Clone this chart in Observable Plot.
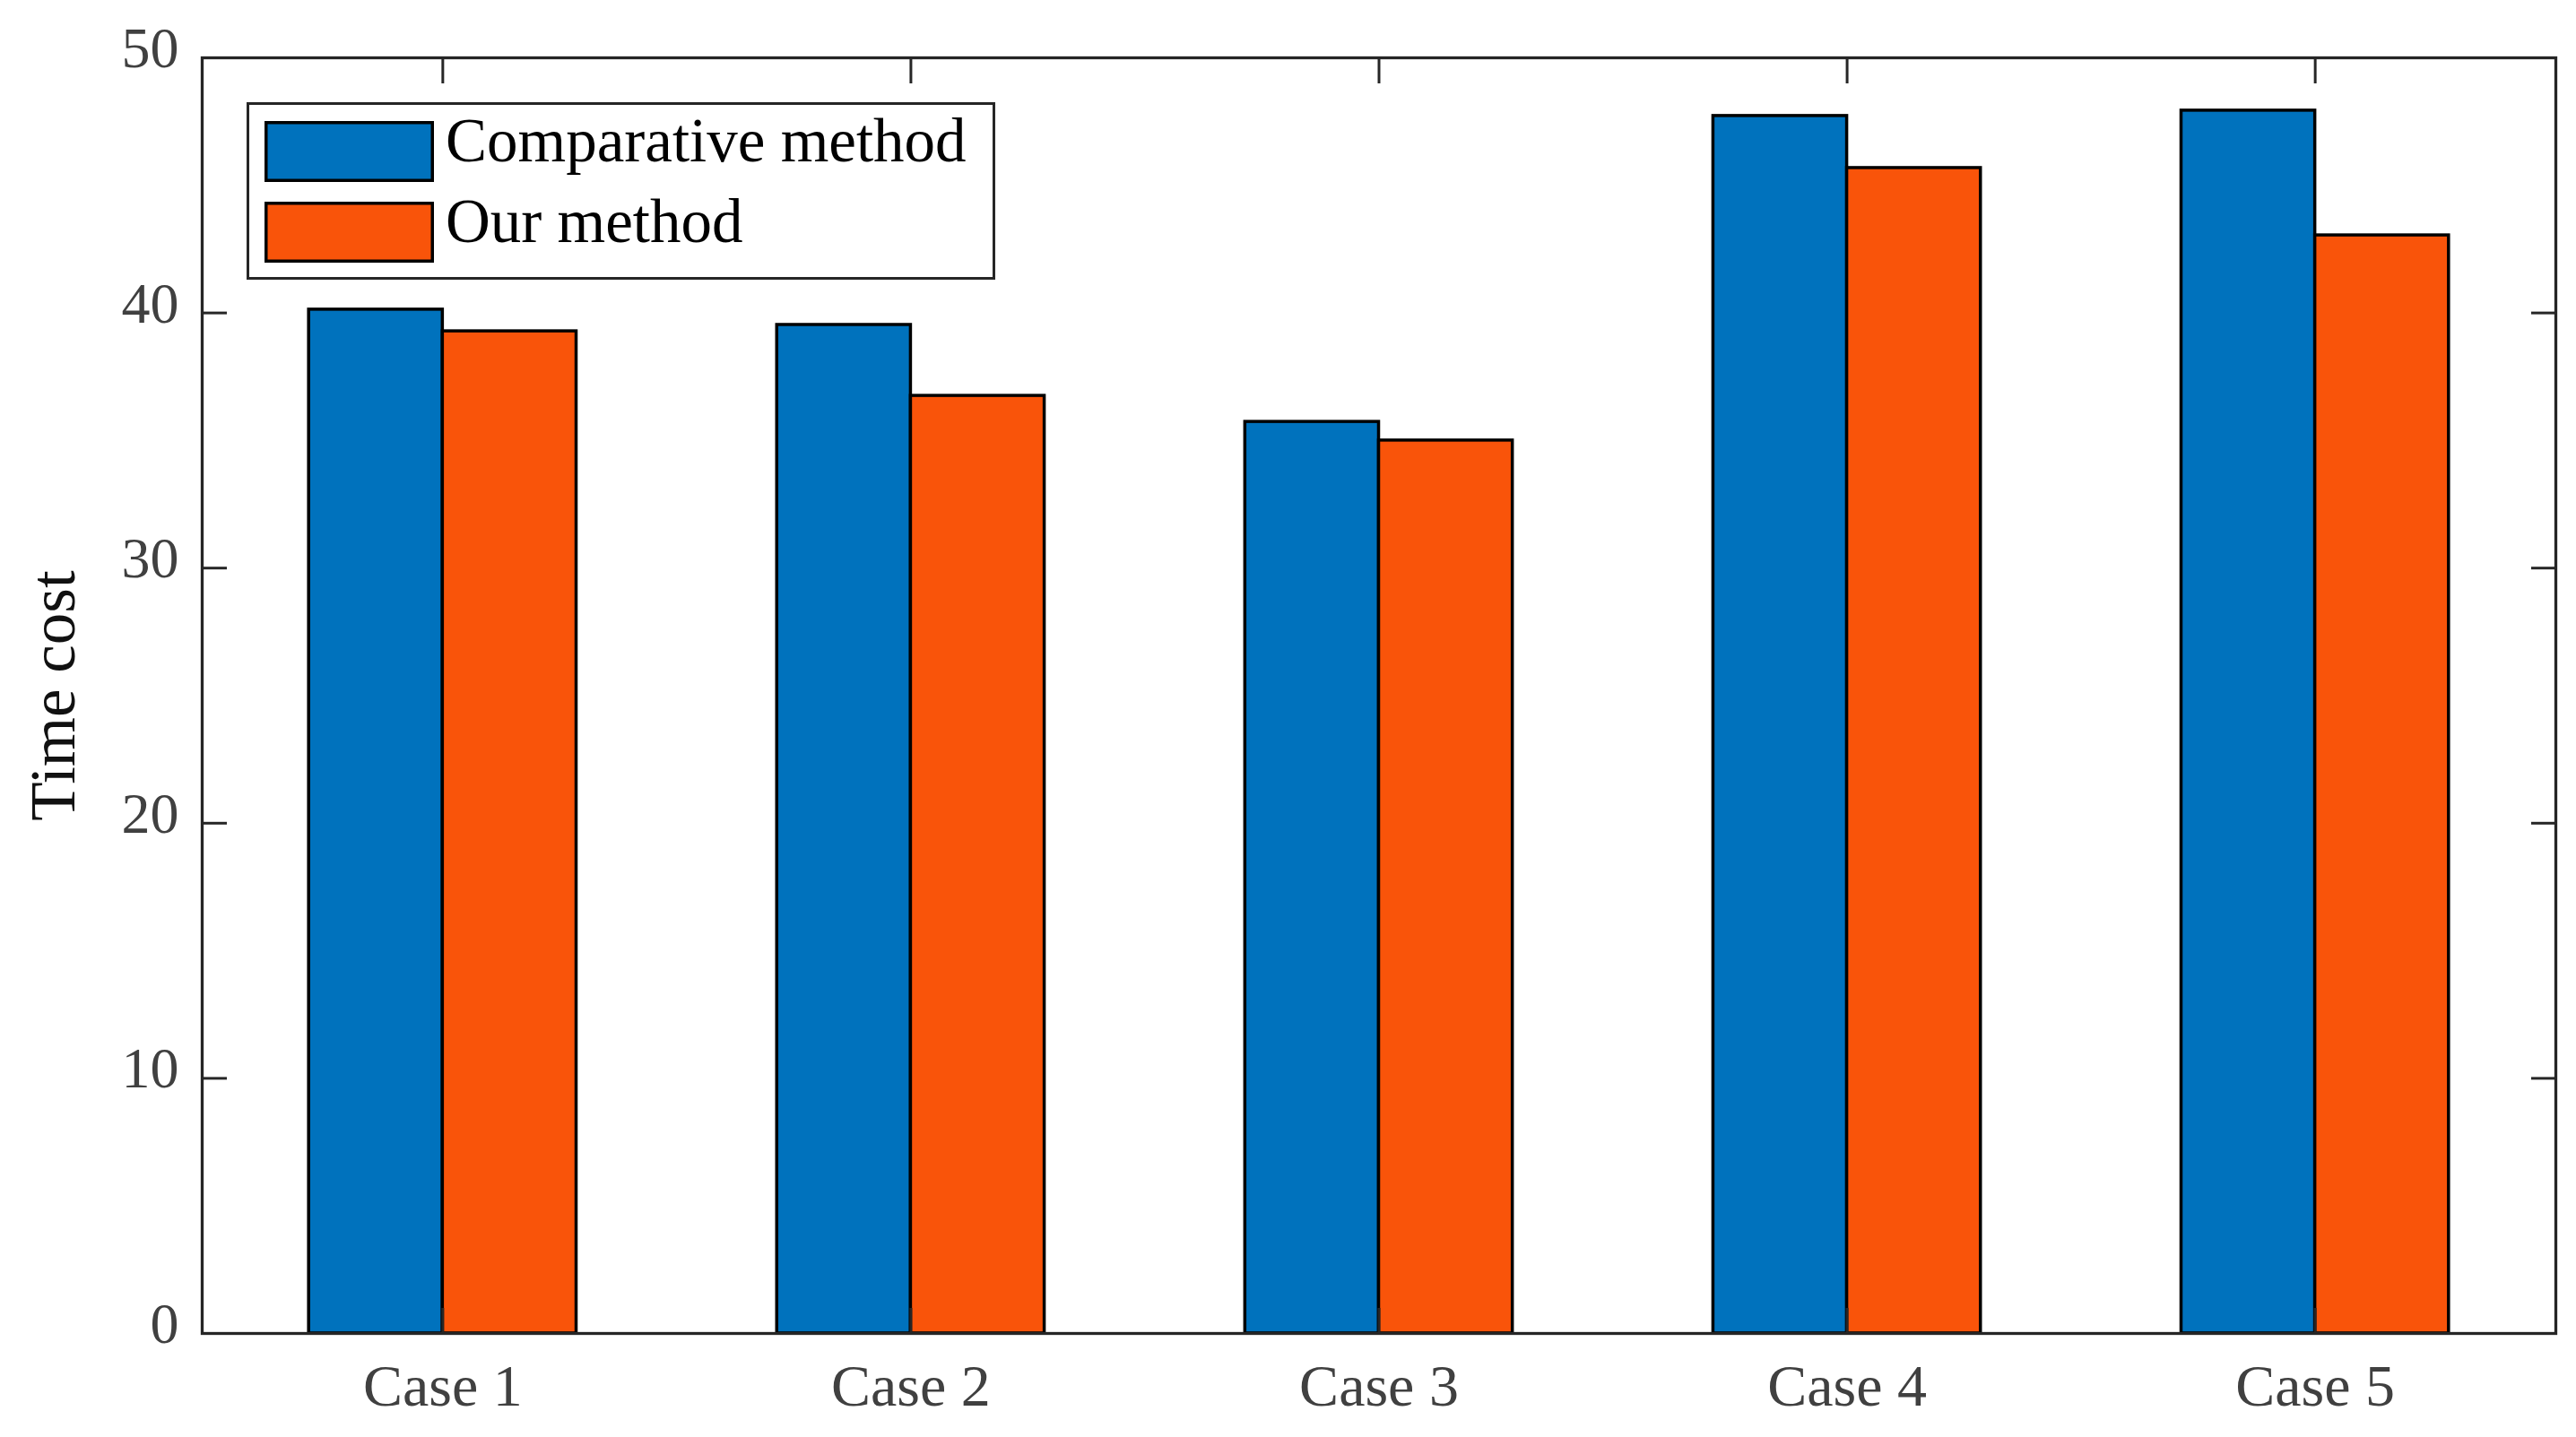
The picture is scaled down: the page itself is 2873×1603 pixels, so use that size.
<!DOCTYPE html>
<html>
<head>
<meta charset="utf-8">
<script src="https://cdn.jsdelivr.net/npm/d3@7"></script>
<script src="https://cdn.jsdelivr.net/npm/@observablehq/plot@0.6"></script>
<style>
  html, body { margin: 0; padding: 0; background: #fff; overflow: hidden; }
  #wrap { position: relative; width: 2873px; height: 1603px; }
  #legend { position: absolute; left: 0; top: 0; pointer-events: none; }
</style>
</head>
<body>
<div id="wrap"></div>
<script>
// ---- data ----
const categories = ["Case 1", "Case 2", "Case 3", "Case 4", "Case 5"];
const seriesNames = ["Comparative method", "Our method"];
const comparative = [40.13, 39.53, 35.73, 47.72, 47.93];
const ours = [39.28, 36.75, 35.00, 45.68, 43.04];
const yTicks = [0, 10, 20, 30, 40, 50];
const yLabel = "Time cost";
const colors = ["#0072BD", "#F9540A"];

// ---- table for the library ----
const seriesValues = [comparative, ours];
const rows = [];
categories.forEach((c, i) => {
  seriesValues.forEach((vals, s) => {
    rows.push({category: c, pos: i + 1, series: s, value: vals[i]});
  });
});
const xPositions = categories.map((_, i) => i + 1);
const barW = 2 / 7; // MATLAB grouped-bar width per series

const W = 2873, H = 1603;
const axisColor = "#262626";
const font = "'Liberation Serif', 'Times New Roman', serif";

const chart = Plot.plot({
  width: W,
  height: H,
  marginLeft: 225,
  marginRight: 23,
  marginTop: 64,
  marginBottom: 116,
  style: {fontFamily: font, background: "#fff", overflow: "visible"},
  x: {type: "linear", domain: [0.486, 5.514]},
  y: {domain: [0, 50]},
  marks: [
    Plot.rectY(rows, {
      x1: d => d.pos + (d.series - 1) * barW,
      x2: d => d.pos + d.series * barW,
      y1: 0,
      y2: "value",
      fill: d => colors[d.series],
      stroke: "#000",
      strokeWidth: 3.5
    }),
    // tick labels
    Plot.axisY(yTicks, {anchor: "left", tickSize: 0, tickPadding: 26, dy: -10,
      fontSize: 64, fill: "#404040", label: null}),
    Plot.axisX(xPositions, {anchor: "bottom", tickSize: 0, tickPadding: 34,
      tickFormat: i => categories[i - 1], fontSize: 66, fill: "#404040", label: null}),
    // inward ticks on all four sides
    Plot.axisY(yTicks, {anchor: "left", tickSize: 28, dx: 28, fill: "none",
      stroke: axisColor, strokeWidth: 3, label: null}),
    Plot.axisY(yTicks, {anchor: "right", tickSize: 28, dx: -28, fill: "none",
      stroke: axisColor, strokeWidth: 3, label: null}),
    Plot.axisX(xPositions, {anchor: "bottom", tickSize: 28, dy: -28, fill: "none",
      stroke: axisColor, strokeWidth: 3, label: null}),
    Plot.axisX(xPositions, {anchor: "top", tickSize: 28, dy: 28, fill: "none",
      stroke: axisColor, strokeWidth: 3, label: null}),
    Plot.frame({stroke: axisColor, strokeWidth: 3.3}),
    // y axis title
    Plot.text([yLabel], {frameAnchor: "left", text: d => d, rotate: -90,
      textAnchor: "middle", dx: -143, lineAnchor: "bottom", fontSize: 71, fill: "#111"})
  ]
});

const wrap = document.getElementById("wrap");
wrap.appendChild(chart);

// ---- legend overlay (inside the axes, top-left) ----
const leg = d3.select(wrap).append("svg")
  .attr("id", "legend")
  .attr("width", W).attr("height", H)
  .style("font-family", font);

const lg = leg.append("g");
lg.append("rect")
  .attr("x", 276.5).attr("y", 115.5).attr("width", 832).attr("height", 195)
  .attr("fill", "#fff").attr("stroke", axisColor).attr("stroke-width", 3);

const rowsG = lg.selectAll("g.item").data(seriesNames).join("g")
  .attr("class", "item")
  .attr("transform", (d, i) => `translate(0, ${i * 90})`);
rowsG.append("rect")
  .attr("x", 296.75).attr("y", 136.75).attr("width", 185.5).attr("height", 64.5)
  .attr("fill", (d, i) => colors[i]).attr("stroke", "#000").attr("stroke-width", 3.5);
rowsG.append("text")
  .attr("x", 497).attr("y", 180)
  .attr("font-size", 69).attr("fill", "#000")
  .text(d => d);
</script>
</body>
</html>
